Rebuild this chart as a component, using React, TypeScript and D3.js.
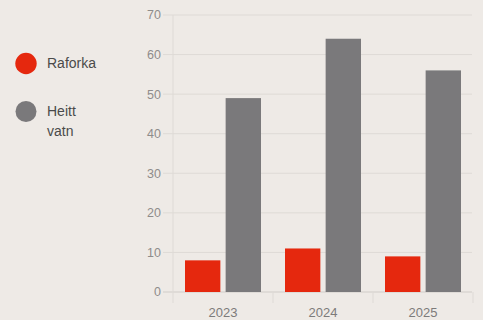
import React from "react";
import * as d3 from "d3";

const categories = ["2023", "2024", "2025"];
const seriesNames = ["Raforka", "Heitt vatn"];
const raforka = [8, 11, 9];
const heittVatn = [49, 64, 56];
const yTicks = [0, 10, 20, 30, 40, 50, 60, 70];

const W = 483;
const H = 320;
const colors = ["#e5280e", "#7a797b"];
const bg = "#eeeae6";
const grid = "#dedad6";
const font = "Helvetica, Arial, 'Liberation Sans', sans-serif";

export default function App() {
  const x = d3.scaleBand<string>().domain(categories).range([173, 473]).paddingInner(0).paddingOuter(0);
  const y = d3.scaleLinear().domain([0, 70]).range([292, 15]);
  const inner = d3
    .scaleBand<string>()
    .domain(seriesNames)
    .range([12, x.bandwidth() - 12])
    .paddingInner(0.13)
    .paddingOuter(0);
  const series = [raforka, heittVatn];

  return (
    <svg
      width={W}
      height={H}
      style={{ position: "absolute", left: 0, top: 0, background: bg, fontFamily: font }}
    >
      <rect x={0} y={0} width={W} height={H} fill={bg} />
      {yTicks.map((t) => (
        <g key={t}>
          <line x1={163} x2={472} y1={y(t)} y2={y(t)} stroke={t === 0 ? "#d0ccc8" : grid} strokeWidth={1} />
          <text x={161} y={y(t)} dy="0.35em" textAnchor="end" fontSize={12.5} fill="#8e8c8b">
            {t}
          </text>
        </g>
      ))}
      {[...categories.map((c) => x(c)!), 473].map((xv, i) => (
        <line key={i} x1={xv} x2={xv} y1={i === 0 ? 15 : 292} y2={303} stroke={grid} strokeWidth={1} />
      ))}
      {categories.map((c, ci) => (
        <g key={c} transform={`translate(${x(c)},0)`}>
          {seriesNames.map((s, si) => (
            <rect
              key={s}
              x={inner(s)}
              y={y(series[si][ci])}
              width={inner.bandwidth()}
              height={y(0) - y(series[si][ci])}
              fill={colors[si]}
            />
          ))}
          <text x={x.bandwidth() / 2} y={317} textAnchor="middle" fontSize={13} fill="#7d7b7a">
            {c}
          </text>
        </g>
      ))}
      <g>
        <circle cx={26} cy={63.5} r={10.7} fill={colors[0]} />
        <text x={47} y={68} fontSize={14} fill="#4a4a4a">
          {seriesNames[0]}
        </text>
        <circle cx={26} cy={111.5} r={10.5} fill={colors[1]} />
        <text x={47} y={116} fontSize={14} fill="#4a4a4a">
          {seriesNames[1].split(" ")[0]}
        </text>
        <text x={47} y={136} fontSize={14} fill="#4a4a4a">
          {seriesNames[1].split(" ")[1]}
        </text>
      </g>
    </svg>
  );
}
